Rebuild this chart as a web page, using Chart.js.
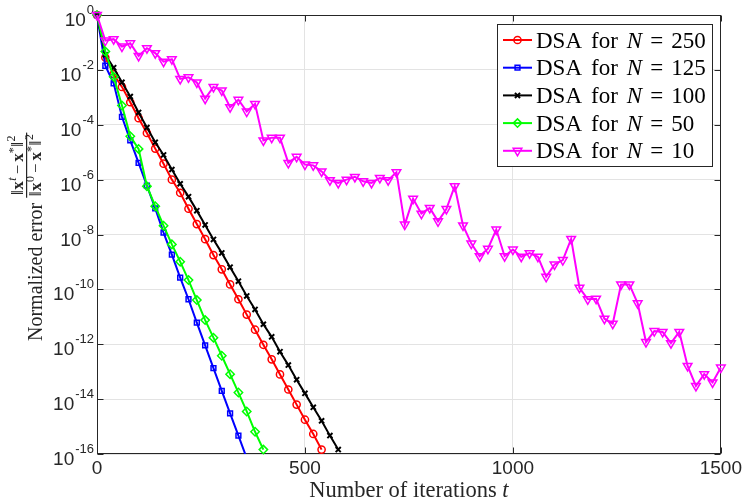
<!DOCTYPE html>
<html><head><meta charset="utf-8">
<script src="https://cdn.jsdelivr.net/npm/chart.js@4.4.0/dist/chart.umd.min.js"></script>
<style>html,body{margin:0;padding:0;background:#fff}#wrap{width:745px;height:502px}</style>
</head><body><div id="wrap"><canvas id="c" width="745" height="502"></canvas></div>
<script>
// Iteration index t (shared by all series)
const iterations = [0,20,40,60,80,100,120,140,160,180,200,220,240,260,280,300,320,340,360,380,400,420,440,460,480,500,520,540,560,580,600,620,640,660,680,700,720,740,760,780,800,820,840,860,880,900,920,940,960,980,1000,1020,1040,1060,1080,1100,1120,1140,1160,1180,1200,1220,1240,1260,1280,1300,1320,1340,1360,1380,1400,1420,1440,1460,1480,1500];
// log10 of normalized error
const log10ErrN250 = [0,-1.55,-2.15,-2.62,-3.18,-3.76,-4.30,-4.87,-5.42,-6.00,-6.48,-7.06,-7.62,-8.17,-8.75,-9.27,-9.82,-10.36,-10.92,-11.47,-12.02,-12.55,-13.10,-13.65,-14.20,-14.75,-15.27,-15.84];
const log10ErrN125 = [0,-1.85,-2.49,-3.71,-4.57,-5.39,-6.22,-7.05,-7.93,-8.73,-9.57,-10.36,-11.21,-12.04,-12.87,-13.70,-14.52,-15.33,-16.15];
const log10ErrN100 = [0,-1.45,-1.92,-2.45,-2.97,-3.55,-4.10,-4.64,-5.10,-5.63,-6.15,-6.62,-7.13,-7.65,-8.18,-8.67,-9.19,-9.70,-10.24,-10.73,-11.27,-11.73,-12.27,-12.76,-13.29,-13.79,-14.30,-14.79,-15.33,-15.84];
const log10ErrN50 = [0,-1.33,-2.25,-3.30,-4.42,-4.88,-6.24,-6.97,-7.68,-8.36,-8.99,-9.66,-10.39,-11.12,-11.76,-12.42,-13.09,-13.76,-14.45,-15.19,-15.84];
const log10ErrN10 = [0,-0.93,-0.88,-1.15,-1.03,-1.49,-1.21,-1.39,-1.70,-1.61,-2.33,-2.27,-2.46,-3.05,-2.62,-2.75,-3.36,-3.09,-3.52,-3.24,-4.57,-4.47,-4.47,-5.39,-5.17,-5.45,-5.48,-5.70,-6.02,-6.12,-6.00,-5.90,-6.06,-6.12,-5.94,-6.02,-5.73,-7.64,-6.70,-7.24,-7.03,-7.52,-7.07,-6.24,-7.67,-8.33,-8.79,-8.52,-7.82,-8.79,-8.55,-8.81,-8.68,-8.81,-9.54,-9.09,-8.93,-8.16,-9.94,-10.36,-10.34,-11.07,-11.25,-9.82,-9.82,-10.51,-11.92,-11.52,-11.55,-11.96,-11.55,-12.79,-13.52,-13.09,-13.39,-12.85];
const seriesN = ['250','125','100','50','10'];
const xTickValues = [0,500,1000,1500];
const yTickExponents = [0,-2,-4,-6,-8,-10,-12,-14,-16];

const toPoints = arr => arr.map((v,i)=>({x: iterations[i], y: Math.pow(10, v)}));
const styles = [
  {c:'#ff0000', ps:'circle', r:3.6, rot:0, bw:1.5},
  {c:'#0000ff', ps:'rect', r:3.4, rot:0, bw:1.5},
  {c:'#000000', ps:'crossRot', r:3.6, rot:0, bw:2},
  {c:'#00ff00', ps:'rectRot', r:4.2, rot:0, bw:1.5},
  {c:'#ff00ff', ps:'triangle', r:5, rot:180, bw:1.5}
];
const allSeries = [log10ErrN250, log10ErrN125, log10ErrN100, log10ErrN50, log10ErrN10];
const datasets = allSeries.map((arr,k)=>({
  label: 'DSA for N = ' + seriesN[k],
  data: toPoints(arr),
  borderColor: styles[k].c,
  backgroundColor: 'rgba(255,255,255,0)',
  borderWidth: 2,
  pointStyle: styles[k].ps,
  pointRadius: styles[k].r,
  pointRotation: styles[k].rot,
  pointBorderWidth: styles[k].bw,
  pointBorderColor: styles[k].c,
  pointBackgroundColor: 'rgba(255,255,255,0)',
  tension: 0,
  order: 5 - k,
  clip: k === 1 ? {left:6, top:6, right:6, bottom:0} : 6
}));

const AX = '#262626';
const decor = {
  id: 'decor',
  beforeDatasetsDraw(chart) {
    const ctx = chart.ctx, a = chart.chartArea;
    const ys = chart.scales.y, xs = chart.scales.x;
    ctx.save();
    // box
    ctx.strokeStyle = AX; ctx.lineWidth = 1;
    const L = Math.round(a.left)+0.5, R = Math.round(a.right)-0.5, T = Math.round(a.top)+0.5, B = Math.round(a.bottom)-0.5;
    ctx.strokeRect(L, T, R-L, B-T);
    // inward ticks
    ctx.beginPath();
    yTickExponents.forEach(e=>{
      const y = Math.round(ys.getPixelForValue(Math.pow(10,e)))+0.5;
      ctx.moveTo(L, y); ctx.lineTo(L+6, y);
      ctx.moveTo(R, y); ctx.lineTo(R-6, y);
    });
    xTickValues.forEach(v=>{
      const x = Math.round(xs.getPixelForValue(v))+0.5;
      ctx.moveTo(x, B); ctx.lineTo(x, B-6);
      ctx.moveTo(x, T); ctx.lineTo(x, T+6);
    });
    ctx.stroke();
    // y tick labels 10^e
    ctx.fillStyle = AX;
    yTickExponents.forEach(e=>{
      const y = ys.getPixelForValue(Math.pow(10,e));
      const ex = String(e);
      ctx.font = '13px "Liberation Sans"';
      const we = ctx.measureText(ex).width;
      ctx.font = '19px "Liberation Sans"';
      const wb = ctx.measureText('10').width;
      const right = 94;
      ctx.textBaseline = 'alphabetic'; ctx.textAlign = 'left';
      ctx.fillText('10', right - we - wb - 1, y + 11);
      ctx.font = '13px "Liberation Sans"';
      ctx.fillText(ex, right - we, y - 1);
    });
    // x title
    ctx.fillStyle = AX;
    ctx.font = '22.5px "Liberation Serif"';
    const t1 = 'Number of iterations ';
    const w1 = ctx.measureText(t1).width;
    ctx.font = 'italic 22.5px "Liberation Serif"';
    const w2 = ctx.measureText('t').width;
    const cx = (a.left + a.right)/2;
    let x0 = cx - (w1+w2)/2;
    ctx.font = '22.5px "Liberation Serif"';
    ctx.fillText(t1, x0, 497);
    ctx.font = 'italic 22.5px "Liberation Serif"';
    ctx.fillText('t', x0 + w1, 497);
    // y title (rotated)
    ctx.save();
    ctx.translate(42, 341);
    ctx.rotate(-Math.PI/2);
    ctx.font = '20px "Liberation Serif"';
    ctx.fillText('Normalized error', 0, 0);
    const tw = ctx.measureText('Normalized error').width;
    const F = '"Liberation Serif", "DejaVu Serif"';
    const mk = sup => [
      {t:'\u2016', f:'17px '+F, dy:0},
      {t:'x', f:'bold 17px '+F, dy:0, pad:0.5},
      {t:sup, f:(sup==='t'?'italic ':'')+'12px '+F, dy:-7},
      {t:'\u2212', f:'17px '+F, dy:0, pad:3},
      {t:'x', f:'bold 17px '+F, dy:0},
      {t:'*', f:'12px '+F, dy:-6},
      {t:'\u2016', f:'17px '+F, dy:0, pad:0.5},
      {t:'2', f:'12px '+F, dy:-8}
    ];
    const num = mk('t'), den = mk('0');
    const measure = parts => parts.reduce((s,p)=>{ctx.font=p.f; return s + ctx.measureText(p.t).width + (p.pad?2*p.pad:0);},0);
    const drawParts = (parts, x, y) => { parts.forEach(p=>{ctx.font=p.f; const w=ctx.measureText(p.t).width; const pd=p.pad||0; ctx.fillText(p.t, x+pd, y+p.dy); x += w + 2*pd;}); };
    const wn = measure(num), wd = measure(den);
    const fw = Math.max(wn, wd) + 3;
    const fx = tw + 5;
    drawParts(num, fx + (fw-wn)/2, -19);
    drawParts(den, fx + (fw-wd)/2, -1);
    ctx.fillRect(fx, -16, fw, 1.2);
    ctx.restore();
    ctx.restore();
  },
  afterDatasetsDraw(chart) {
    const ctx = chart.ctx;
    ctx.save();
    const bx = 497.5, by = 24.5, bw = 215, bh = 142;
    ctx.fillStyle = '#fff';
    ctx.fillRect(bx, by, bw, bh);
    ctx.strokeStyle = AX; ctx.lineWidth = 1;
    ctx.strokeRect(bx, by, bw, bh);
    chart.data.datasets.forEach((ds,i)=>{
      const cy = 40 + 27.7*i;
      ctx.strokeStyle = ds.borderColor; ctx.lineWidth = 2;
      ctx.beginPath(); ctx.moveTo(503, cy); ctx.lineTo(532, cy); ctx.stroke();
      ctx.fillStyle = 'rgba(255,255,255,0)';
      ctx.lineWidth = ds.pointBorderWidth;
      Chart.helpers.drawPoint(ctx, {pointStyle: ds.pointStyle, rotation: ds.pointRotation, radius: ds.pointRadius, borderWidth: ds.pointBorderWidth}, 517.5, cy);
      // text
      ctx.fillStyle = '#000';
      const base = cy + 7.5;
      let x = 536;
      const fs = '23px "Liberation Serif"';
      ctx.font = fs;
      ctx.fillText('DSA', x, base); x += ctx.measureText('DSA').width + 9;
      ctx.fillText('for', x, base); x += ctx.measureText('for').width + 9;
      ctx.font = 'italic ' + fs;
      ctx.fillText('N', x, base); x += ctx.measureText('N').width + 8;
      ctx.font = fs;
      ctx.fillText('=', x, base); x += ctx.measureText('=').width + 8;
      ctx.fillText(seriesN[i], x, base);
    });
    ctx.restore();
  }
};

new Chart(document.getElementById('c'), {
  type: 'line',
  data: { datasets },
  options: {
    responsive: false,
    animation: false,
    devicePixelRatio: 1,
    layout: { padding: { top: 15, right: 22, left: 0, bottom: 0 } },
    plugins: { legend: { display: false }, tooltip: { enabled: false } },
    scales: {
      x: {
        type: 'linear', min: 0, max: 1500,
        afterBuildTicks: s => { s.ticks = xTickValues.map(v=>({value:v})); },
        ticks: { font: { family: 'Liberation Sans', size: 19 }, color: AX, padding: 3, maxRotation: 0, autoSkip: false, callback: v => String(v) },
        grid: { color: '#e3e3e3', lineWidth: 1, drawTicks: false },
        border: { display: false },
        afterFit: s => { s.height = 48; }
      },
      y: {
        type: 'logarithmic', min: 1e-16, max: 1,
        afterBuildTicks: s => { s.ticks = yTickExponents.map(e=>({value: Math.pow(10,e)})); },
        ticks: { display: false },
        grid: { color: '#e3e3e3', lineWidth: 1, drawTicks: false },
        border: { display: false },
        afterFit: s => { s.width = 97; }
      }
    }
  },
  plugins: [decor]
});
</script></body></html>
